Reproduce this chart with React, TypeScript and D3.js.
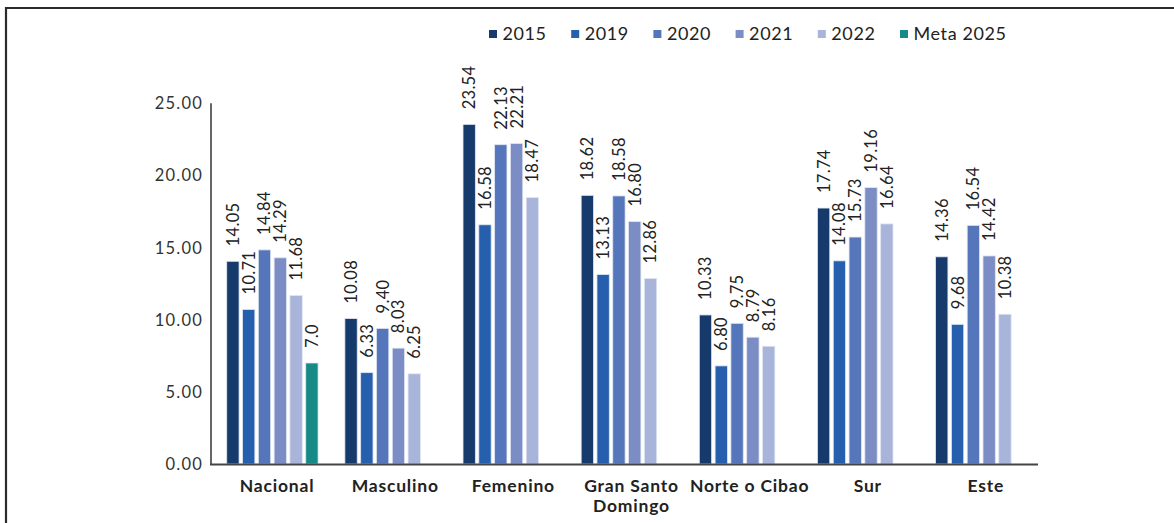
import React from "react";
import * as d3 from "d3";

const categories = ["Nacional", "Masculino", "Femenino", "Gran Santo Domingo", "Norte o Cibao", "Sur", "Este"];
const seriesNames = ["2015", "2019", "2020", "2021", "2022", "Meta 2025"];
const s2015 = [14.05, 10.08, 23.54, 18.62, 10.33, 17.74, 14.36];
const s2019 = [10.71, 6.33, 16.58, 13.13, 6.8, 14.08, 9.68];
const s2020 = [14.84, 9.4, 22.13, 18.58, 9.75, 15.73, 16.54];
const s2021 = [14.29, 8.03, 22.21, 16.8, 8.79, 19.16, 14.42];
const s2022 = [11.68, 6.25, 18.47, 12.86, 8.16, 16.64, 10.38];
const sMeta: (number | null)[] = [7.0, null, null, null, null, null, null];
const metaLabels = ["7.0"];
const yTicks = [0, 5, 10, 15, 20, 25];
const colors = ["#163a6c", "#255fae", "#5676bb", "#7c8dc5", "#a8b4da", "#178a87"];

const W = 1174;
const H = 523;

export default function App() {
  const allSeries: (number | null)[][] = [s2015, s2019, s2020, s2021, s2022, sMeta];
  const x0 = d3.scaleBand<string>().domain(categories).range([211, 1038]).padding(0);
  const x1 = d3.scaleBand<string>().domain(seriesNames).range([14, 14 + 6 * 15.8]).paddingInner(0.22).paddingOuter(0.11);
  const y = d3.scaleLinear().domain([0, 25]).range([464, 103.3]);
  const font = "Lato, 'Open Sans', sans-serif";

  const bars: React.ReactNode[] = [];
  const labels: React.ReactNode[] = [];
  categories.forEach((c, ci) => {
    allSeries.forEach((s, si) => {
      const v = s[ci];
      if (v == null) return;
      const bx = (x0(c) as number) + (x1(seriesNames[si]) as number);
      const bw = x1.bandwidth();
      bars.push(
        <rect key={`b${ci}-${si}`} x={bx} y={y(v)} width={bw} height={y(0) - y(v)} fill={colors[si]} stroke="#dfe5f1" strokeWidth={0.8} />
      );
      const txt = si === 5 ? metaLabels[0] : v.toFixed(2);
      const cx = bx + bw / 2;
      const ty = y(v) - 15;
      labels.push(
        <text key={`l${ci}-${si}`} transform={`translate(${cx},${ty}) rotate(-90)`} textAnchor="start" dy="0.36em" fontSize={16.5} fill="#222" fontFamily={font} letterSpacing={0.3}>
          {txt}
        </text>
      );
    });
  });

  const catLabel = (c: string) => {
    const cx = (x0(c) as number) + x0.bandwidth() / 2 + 7;
    const lines = c === "Gran Santo Domingo" ? ["Gran Santo", "Domingo"] : [c];
    return (
      <text key={`c${c}`} x={cx} y={492} textAnchor="middle" fontSize={17.5} fontWeight={700} fill="#222" fontFamily={font} letterSpacing={0.8}>
        {lines.map((l, i) => (
          <tspan key={i} x={cx} dy={i === 0 ? 0 : 20}>{l}</tspan>
        ))}
      </text>
    );
  };

  return (
    <svg width={W} height={H} style={{ position: "absolute", left: 0, top: 0, background: "#fff" }}>
      <line x1={6} y1={8} x2={1174} y2={8} stroke="#2b2b2b" strokeWidth={2.2} />
      <line x1={6} y1={7} x2={6} y2={523} stroke="#2b2b2b" strokeWidth={2.2} />
      {/* legend */}
      {seriesNames.map((s, i) => {
        const lx = 489 + i * 82.2;
        return (
          <g key={`lg${i}`}>
            <rect x={lx} y={30} width={8} height={8} fill={colors[i]} />
            <text x={lx + 13.5} y={34} dy="0.36em" fontSize={18} fill="#222" fontFamily={font} letterSpacing={0.6}>{s}</text>
          </g>
        );
      })}
      {/* y axis */}
      {yTicks.map((t) => (
        <text key={`t${t}`} x={203} y={y(t)} dy="0.36em" textAnchor="end" fontSize={16.5} fontWeight={400} fill="#333" fontFamily={font} letterSpacing={1.2}>
          {t.toFixed(2)}
        </text>
      ))}
      {bars}
      <line x1={211} y1={103.3} x2={211} y2={464} stroke="#333" strokeWidth={1.5} />
      <line x1={210} y1={464.5} x2={1038} y2={464.5} stroke="#444" strokeWidth={2} />
      {labels}
      {categories.map(catLabel)}
    </svg>
  );
}
